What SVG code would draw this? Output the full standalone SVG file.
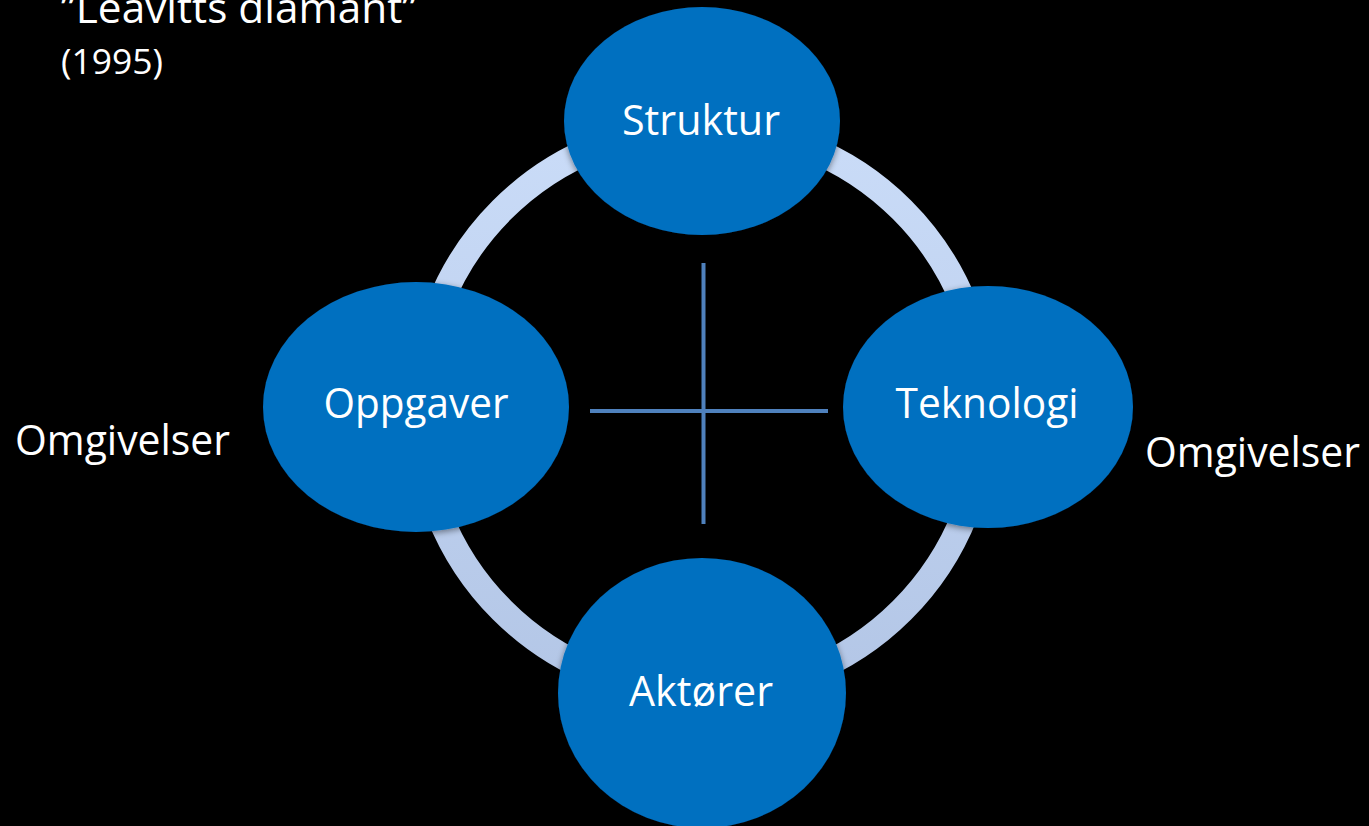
<svg xmlns="http://www.w3.org/2000/svg" width="1369" height="826" viewBox="0 0 1369 826">
  <style>
    .lbl { font-family: "Open Sans", "Liberation Sans", sans-serif; font-size: 42px; fill: #ffffff; }
    .node { fill: #0070c0; filter: url(#sh); }
    .cross { stroke: #4f81bd; stroke-width: 4; fill: none; }
  </style>
  <defs>
    <linearGradient id="ringGrad" x1="0" y1="0" x2="0" y2="1">
      <stop offset="0" stop-color="#cadcf8"/>
      <stop offset="1" stop-color="#b3c6e6"/>
    </linearGradient>
    <filter id="sh" x="-10%" y="-10%" width="120%" height="125%">
      <feDropShadow dx="0" dy="2" stdDeviation="3" flood-color="#000" flood-opacity="0.45"/>
    </filter>
  </defs>
  <rect width="1369" height="826" fill="#000000"/>

  <g id="connectors">
    <circle id="ring" cx="702" cy="410" r="283" fill="none" stroke="url(#ringGrad)" stroke-width="26"/>
    <line class="cross" x1="703.5" y1="263" x2="703.5" y2="524"/>
    <line class="cross" x1="590" y1="411" x2="828" y2="411"/>
  </g>

  <g id="node-struktur">
    <ellipse class="node" cx="702" cy="121" rx="138" ry="114"/>
    <text class="lbl" x="701" y="135" text-anchor="middle" textLength="158" lengthAdjust="spacingAndGlyphs">Struktur</text>
  </g>
  <g id="node-oppgaver">
    <ellipse class="node" cx="416" cy="407" rx="153" ry="125"/>
    <text class="lbl" x="416" y="418" text-anchor="middle" textLength="185" lengthAdjust="spacingAndGlyphs">Oppgaver</text>
  </g>
  <g id="node-teknologi">
    <ellipse class="node" cx="988" cy="407" rx="145" ry="121"/>
    <text class="lbl" x="987" y="418" text-anchor="middle" textLength="183" lengthAdjust="spacingAndGlyphs">Teknologi</text>
  </g>
  <g id="node-aktorer">
    <ellipse class="node" cx="702" cy="693" rx="144" ry="135"/>
    <text class="lbl" x="701" y="706" text-anchor="middle" textLength="144" lengthAdjust="spacingAndGlyphs">Aktører</text>
  </g>

  <g id="texts">
    <text class="lbl" x="61" y="23" textLength="356" lengthAdjust="spacingAndGlyphs">”Leavitts diamant”</text>
    <text class="lbl" x="61" y="74" style="font-size:34px" textLength="102" lengthAdjust="spacingAndGlyphs">(1995)</text>
    <text class="lbl" x="15" y="455" textLength="215" lengthAdjust="spacingAndGlyphs">Omgivelser</text>
    <text class="lbl" x="1145" y="467" textLength="215" lengthAdjust="spacingAndGlyphs">Omgivelser</text>
  </g>
</svg>
